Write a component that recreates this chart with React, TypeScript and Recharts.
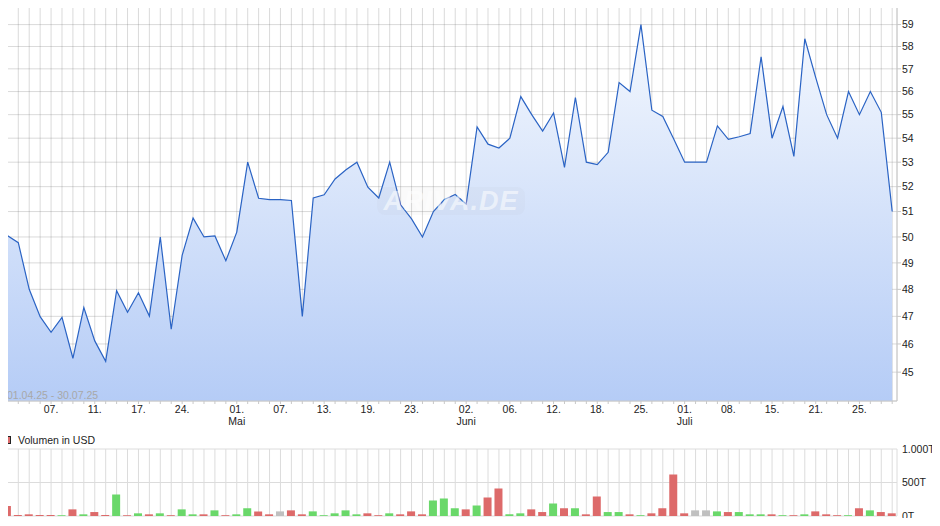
import React from "react";
import {
  AreaChart,
  Area,
  BarChart,
  Bar,
  Cell,
  XAxis,
  YAxis,
  CartesianGrid,
  ReferenceLine,
} from "recharts";

// Schlusskurse 01.04.25 - 30.07.25 (ein Wert je Handelstag)
const prices = [
  50.05, 49.78, 48.0, 46.99, 46.42, 46.96, 45.49, 47.32, 46.11, 45.38,
  47.95, 47.15, 47.87, 47.01, 50.0, 46.53, 49.29, 50.74, 50.0, 50.04,
  49.08, 50.19, 53.0, 51.53, 51.48, 51.48, 51.44, 47.0, 51.54, 51.67,
  52.31, 52.69, 53.0, 51.98, 51.54, 53.0, 51.27, 50.71, 50.0, 51.0,
  51.48, 51.68, 51.3, 54.48, 53.75, 53.59, 54.0, 55.78, 55.0, 54.3,
  55.07, 52.79, 55.74, 53.0, 52.9, 53.41, 56.39, 56.0, 59.0, 55.19,
  54.92, 53.97, 53.0, 53.0, 53.0, 54.52, 53.95, 54.06, 54.2, 57.54,
  54.0, 55.35, 53.24, 58.35, 56.61, 55.0, 54.0, 56.0, 55.0, 56.0,
  55.1, 51.0,
];

// Volumen in Tausend USD
const volumes = [
  148, 15, 25, 15, 15, 12, 99, 25, 59, 15,
  322, 12, 40, 25, 40, 12, 99, 25, 25, 84,
  12, 25, 114, 69, 25, 69, 84, 25, 69, 12,
  40, 84, 25, 40, 12, 40, 25, 69, 25, 233,
  262, 114, 99, 158, 277, 411, 25, 40, 99, 59,
  188, 114, 114, 25, 292, 59, 59, 25, 12, 40,
  114, 619, 40, 84, 84, 69, 59, 59, 25, 25,
  25, 12, 12, 25, 69, 25, 12, 12, 114, 84,
  59, 40,
];

// g = steigend, r = fallend, n = unverändert
const volumeDir = [
  "r", "r", "r", "r", "r", "g", "r", "g", "r", "r",
  "g", "r", "g", "r", "g", "r", "g", "g", "r", "g",
  "r", "g", "g", "r", "r", "n", "r", "r", "g", "g",
  "g", "g", "g", "r", "r", "g", "r", "r", "r", "g",
  "g", "g", "r", "g", "r", "r", "g", "g", "r", "r",
  "g", "r", "g", "r", "r", "g", "g", "r", "g", "r",
  "r", "r", "r", "n", "n", "g", "r", "g", "g", "g",
  "r", "g", "r", "g", "r", "r", "r", "g", "r", "g",
  "r", "r",
];

const tickIdx = [4, 8, 12, 16, 21, 25, 29, 33, 37, 42, 46, 50, 54, 58, 62, 66, 70, 74, 78];
const tickText = ["07.", "11.", "17.", "24.", "01.", "07.", "13.", "19.", "23.", "02.", "06.", "12.", "18.", "25.", "01.", "08.", "15.", "21.", "25."];
const monthIdx = [21, 42, 62];
const monthText = ["Mai", "Juni", "Juli"];

const priceTicks = [45, 46, 47, 48, 49, 50, 51, 52, 53, 54, 55, 56, 57, 58, 59];
const volumeTicks = [0, 500, 1000];

const dirColor: Record<string, string> = { g: "#6ad86a", r: "#dd6a6a", n: "#c0c0c0" };

const data = prices.map((p, i) => ({ idx: i, price: p, vol: volumes[i], dir: volumeDir[i] }));
const allIdx = data.map((d) => d.idx);
const xDomain: [number, number] = [-0.4, 81.44];

const FONT = "'Liberation Sans', Arial, sans-serif";
const FS = 10.5;
const AXIS = "#c8c8c8";

function DateTick(props: any) {
  const { x, y, payload } = props;
  const k = tickIdx.indexOf(payload.value);
  if (k < 0) return <g />;
  const m = monthIdx.indexOf(payload.value);
  return (
    <g>
      <text x={x} y={y} dy="0.71em" textAnchor="middle" fontSize={FS} fontFamily={FONT} fill="#222">
        {tickText[k]}
      </text>
      {m >= 0 && (
        <text x={x} y={y + 12} dy="0.71em" textAnchor="middle" fontSize={FS} fontFamily={FONT} fill="#222">
          {monthText[m]}
        </text>
      )}
    </g>
  );
}

const fmtVol = (v: number) => (v === 1000 ? "1.000T" : `${v}T`);

export default function App() {
  return (
    <div style={{ position: "relative", width: 940, height: 526, margin: -8, fontFamily: FONT }}>
      <div style={{ position: "absolute", left: 0, top: 0 }}>
        <AreaChart width={940} height={430} data={data} margin={{ top: 3, right: 0, left: 3, bottom: 1 }}>
          <defs>
            <linearGradient id="priceFill" x1="0" y1="0" x2="0" y2="1">
              <stop offset="0%" stopColor="#f4f8fe" />
              <stop offset="100%" stopColor="#b5ccf6" />
            </linearGradient>
          </defs>
          <XAxis
            dataKey="idx"
            type="number"
            domain={xDomain}
            allowDataOverflow
            ticks={allIdx}
            interval={0}
            tick={DateTick}
            tickSize={3}
            tickMargin={2}
            height={28}
            axisLine={{ stroke: AXIS }}
            tickLine={{ stroke: AXIS }}
          />
          <YAxis
            orientation="right"
            scale="log"
            domain={[44, 60]}
            allowDataOverflow
            ticks={priceTicks}
            interval={0}
            width={43}
            tickSize={4}
            tickMargin={1}
            axisLine={{ stroke: AXIS }}
            tickLine={{ stroke: AXIS }}
            tick={{ fill: "#222", fontSize: FS, fontFamily: FONT }}
          />
          <Area
            type="linear"
            dataKey="price"
            stroke="#2a63c4"
            strokeWidth={1.2}
            fill="url(#priceFill)"
            fillOpacity={1}
            dot={false}
            activeDot={false}
            isAnimationActive={false}
          />
          <CartesianGrid stroke="rgba(110,110,110,0.25)" />
          <ReferenceLine y={60} stroke={AXIS} />
          <ReferenceLine x={-0.4} stroke={AXIS} />
        </AreaChart>
      </div>

      <div
        style={{
          position: "absolute",
          left: 377,
          top: 187,
          width: 148,
          height: 28,
          borderRadius: 8,
          background: "rgba(150,150,150,0.05)",
          color: "rgba(255,255,255,0.55)",
          fontSize: 27,
          fontWeight: "bold",
          fontStyle: "italic",
          lineHeight: "28px",
          textAlign: "center",
          letterSpacing: 1,
        }}
      >
        ARIVA.DE
      </div>

      <div style={{ position: "absolute", left: 7, top: 390, fontSize: FS, lineHeight: "11px", color: "#a8a8a8" }}>
        01.04.25 - 30.07.25
      </div>

      <div style={{ position: "absolute", left: 0, top: 430 }}>
        <BarChart width={940} height={96} data={data} margin={{ top: 19, right: 0, left: 3, bottom: 10 }}>
          <CartesianGrid stroke="#dcdcdc" />
          <XAxis dataKey="idx" type="number" domain={xDomain} allowDataOverflow ticks={allIdx} interval={0} hide />
          <YAxis
            orientation="right"
            domain={[0, 1000]}
            ticks={volumeTicks}
            interval={0}
            width={43}
            tickSize={4}
            tickMargin={1}
            axisLine={false}
            tickLine={false}
            tickFormatter={fmtVol}
            tick={{ fill: "#222", fontSize: FS, fontFamily: FONT }}
          />
          <Bar dataKey="vol" barSize={8} isAnimationActive={false}>
            {data.map((d) => (
              <Cell key={d.idx} fill={dirColor[d.dir]} />
            ))}
          </Bar>
        </BarChart>
      </div>

      <div
        style={{
          position: "absolute",
          zIndex: 5,
          left: 3,
          top: 436,
          width: 8,
          height: 8,
          boxSizing: "border-box",
          backgroundColor: "#dd6a6a",
          border: "1px solid #222",
        }}
      />
      <div style={{ position: "absolute", zIndex: 5, left: 18, top: 434, fontSize: FS, lineHeight: "12px", color: "#222" }}>
        Volumen in USD
      </div>
    </div>
  );
}
